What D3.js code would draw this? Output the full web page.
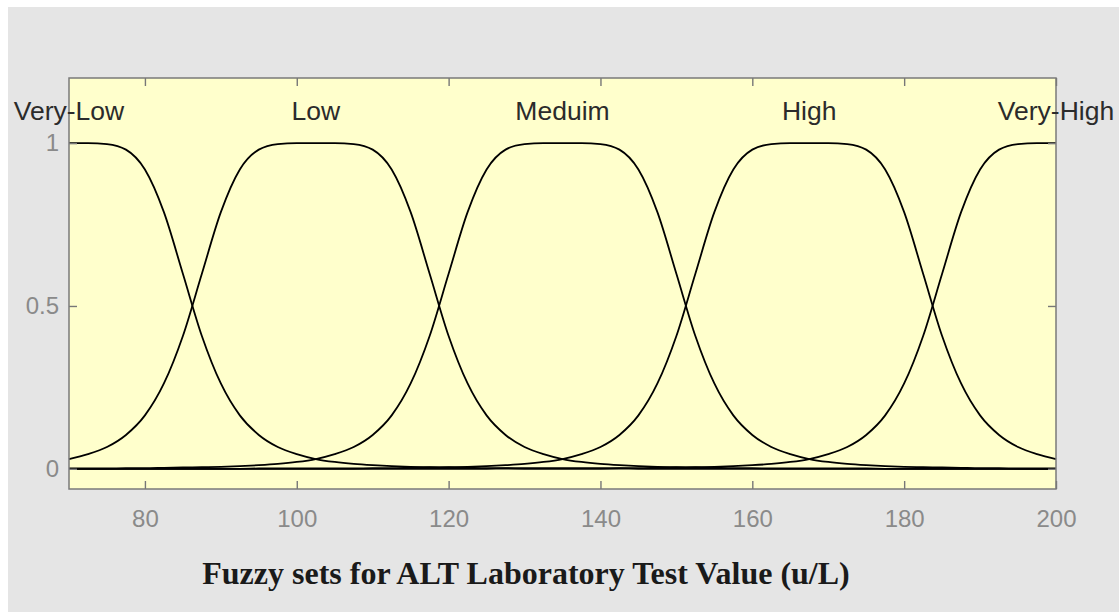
<!DOCTYPE html>
<html lang="en">
<head>
    <meta charset="UTF-8">
    <title>Fuzzy sets for ALT Laboratory Test Value</title>
    <script src="https://d3js.org/d3.v7.min.js"></script>
    <style>
        body {
            margin: 0;
            background: #ffffff;
        }
        svg {
            display: block;
        }
        .tick-label {
            font-family: "Liberation Sans", Arial, sans-serif;
            font-size: 24px;
            fill: #8a8a8a;
        }
        .set-label {
            font-family: "Liberation Sans", Arial, sans-serif;
            font-size: 26.5px;
            fill: #2b2b2b;
        }
        .title {
            font-family: "Liberation Serif", "Times New Roman", serif;
            font-weight: bold;
            font-size: 32px;
            fill: #1a1a1a;
        }
    </style>
</head>
<body>
    <svg></svg>
    <script>
        const xValues = [70, 72.5, 75, 77.5, 80, 82.5, 85, 87.5, 90, 92.5, 95, 97.5, 100, 102.5, 105, 107.5, 110, 112.5, 115, 117.5,
            120, 122.5, 125, 127.5, 130, 132.5, 135, 137.5, 140, 142.5, 145, 147.5, 150, 152.5, 155, 157.5, 160, 162.5, 165, 167.5,
            170, 172.5, 175, 177.5, 180, 182.5, 185, 187.5, 190, 192.5, 195, 197.5, 200];

        const veryLow = [1, 1, 0.997, 0.98, 0.919, 0.788, 0.599, 0.408, 0.262, 0.164, 0.104, 0.067, 0.045, 0.03, 0.021, 0.015, 0.011, 0.008, 0.006, 0.005,
            0.004, 0.003, 0.002, 0.002, 0.001, 0.001, 0.001, 0.001, 0.001, 0.001, 0, 0, 0, 0, 0, 0, 0, 0, 0, 0,
            0, 0, 0, 0, 0, 0, 0, 0, 0, 0, 0, 0, 0];
        const low = [0.03, 0.045, 0.067, 0.104, 0.164, 0.262, 0.408, 0.599, 0.788, 0.919, 0.98, 0.997, 1, 1, 1, 0.997, 0.98, 0.919, 0.788, 0.599,
            0.408, 0.262, 0.164, 0.104, 0.067, 0.045, 0.03, 0.021, 0.015, 0.011, 0.008, 0.006, 0.005, 0.004, 0.003, 0.002, 0.002, 0.001, 0.001, 0.001,
            0.001, 0.001, 0.001, 0, 0, 0, 0, 0, 0, 0, 0, 0, 0];
        const medium = [0.001, 0.001, 0.001, 0.002, 0.002, 0.003, 0.004, 0.005, 0.006, 0.008, 0.011, 0.015, 0.021, 0.03, 0.045, 0.067, 0.104, 0.164, 0.262, 0.408,
            0.599, 0.788, 0.919, 0.98, 0.997, 1, 1, 1, 0.997, 0.98, 0.919, 0.788, 0.599, 0.408, 0.262, 0.164, 0.104, 0.067, 0.045, 0.03,
            0.021, 0.015, 0.011, 0.008, 0.006, 0.005, 0.004, 0.003, 0.002, 0.002, 0.001, 0.001, 0.001];
        const high = [0, 0, 0, 0, 0, 0, 0, 0, 0, 0, 0.001, 0.001, 0.001, 0.001, 0.001, 0.001, 0.002, 0.002, 0.003, 0.004,
            0.005, 0.006, 0.008, 0.011, 0.015, 0.021, 0.03, 0.045, 0.067, 0.104, 0.164, 0.262, 0.408, 0.599, 0.788, 0.919, 0.98, 0.997, 1, 1,
            1, 0.997, 0.98, 0.919, 0.788, 0.599, 0.408, 0.262, 0.164, 0.104, 0.067, 0.045, 0.03];
        const veryHigh = [0, 0, 0, 0, 0, 0, 0, 0, 0, 0, 0, 0, 0, 0, 0, 0, 0, 0, 0, 0,
            0, 0, 0, 0.001, 0.001, 0.001, 0.001, 0.001, 0.001, 0.002, 0.002, 0.003, 0.004, 0.005, 0.006, 0.008, 0.011, 0.015, 0.021, 0.03,
            0.045, 0.067, 0.104, 0.164, 0.262, 0.408, 0.599, 0.788, 0.919, 0.98, 0.997, 1, 1];

        const setNames = ["Very-Low", "Low", "Meduim", "High", "Very-High"];
        const setCenters = [70, 102.5, 135, 167.5, 200];
        const xTicks = [80, 100, 120, 140, 160, 180, 200];
        const yTicks = [0, 0.5, 1];
        const yTickLabels = ["0", "0.5", "1"];

        const series = [veryLow, low, medium, high, veryHigh];

        const width = 1119;
        const height = 612;
        const plot = { left: 69, right: 1056, top: 78, bottom: 489 };

        const svg = d3.select("svg")
            .attr("width", width)
            .attr("height", height);

        // fondo gris de la figura
        svg.append("rect")
            .attr("x", 8).attr("y", 7)
            .attr("width", width - 8).attr("height", height - 7)
            .attr("fill", "#e5e5e5");

        const x = d3.scaleLinear().domain([70, 200]).range([plot.left, plot.right]);
        const y = d3.scaleLinear().domain([-0.062, 1.2]).range([plot.bottom, plot.top]);

        // area del grafico
        svg.append("rect")
            .attr("x", plot.left).attr("y", plot.top)
            .attr("width", plot.right - plot.left)
            .attr("height", plot.bottom - plot.top)
            .attr("fill", "#ffffcc");

        // curvas
        const line = d3.line()
            .x((d, i) => x(xValues[i]))
            .y(d => y(d))
            .curve(d3.curveMonotoneX);

        svg.selectAll(".mf")
            .data(series)
            .enter()
            .append("path")
            .attr("class", "mf")
            .attr("d", line)
            .attr("fill", "none")
            .attr("stroke", "#000")
            .attr("stroke-width", 1.8);

        // ejes (marcas hacia dentro)
        const tickLen = 8;
        const styleAxis = g => {
            g.select(".domain").remove();
            g.selectAll(".tick line").attr("stroke", "#777").attr("stroke-width", 1.4);
        };

        svg.append("g")
            .attr("transform", `translate(0,${plot.bottom})`)
            .call(d3.axisBottom(x).tickValues(xTicks).tickSizeInner(-tickLen).tickSizeOuter(0).tickPadding(21))
            .call(styleAxis)
            .call(g => g.selectAll("text").attr("class", "tick-label").attr("dy", "0.71em"));

        svg.append("g")
            .attr("transform", `translate(0,${plot.top})`)
            .call(d3.axisTop(x).tickValues(xTicks).tickSizeInner(-tickLen).tickSizeOuter(0).tickFormat(""))
            .call(styleAxis);

        svg.append("g")
            .attr("transform", `translate(${plot.left},0)`)
            .call(d3.axisLeft(y).tickValues(yTicks).tickSizeInner(-tickLen).tickSizeOuter(0).tickPadding(10)
                .tickFormat((d, i) => yTickLabels[i]))
            .call(styleAxis)
            .call(g => g.selectAll("text").attr("class", "tick-label"));

        svg.append("g")
            .attr("transform", `translate(${plot.right},0)`)
            .call(d3.axisRight(y).tickValues(yTicks).tickSizeInner(-tickLen).tickSizeOuter(0).tickFormat(""))
            .call(styleAxis);

        // marco
        svg.append("rect")
            .attr("x", plot.left).attr("y", plot.top)
            .attr("width", plot.right - plot.left)
            .attr("height", plot.bottom - plot.top)
            .attr("fill", "none")
            .attr("stroke", "#7a7a7a")
            .attr("stroke-width", 1.5);

        // nombres de los conjuntos
        svg.selectAll(".set-label")
            .data(setNames)
            .enter()
            .append("text")
            .attr("class", "set-label")
            .attr("x", (d, i) => x(setCenters[i]))
            .attr("y", y(1.1))
            .attr("dy", "0.35em")
            .attr("text-anchor", "middle")
            .text(d => d);

        // titulo
        svg.append("text")
            .attr("class", "title")
            .attr("x", 526)
            .attr("y", 584)
            .attr("text-anchor", "middle")
            .text("Fuzzy sets for ALT Laboratory Test Value (u/L)");
    </script>
</body>
</html>
